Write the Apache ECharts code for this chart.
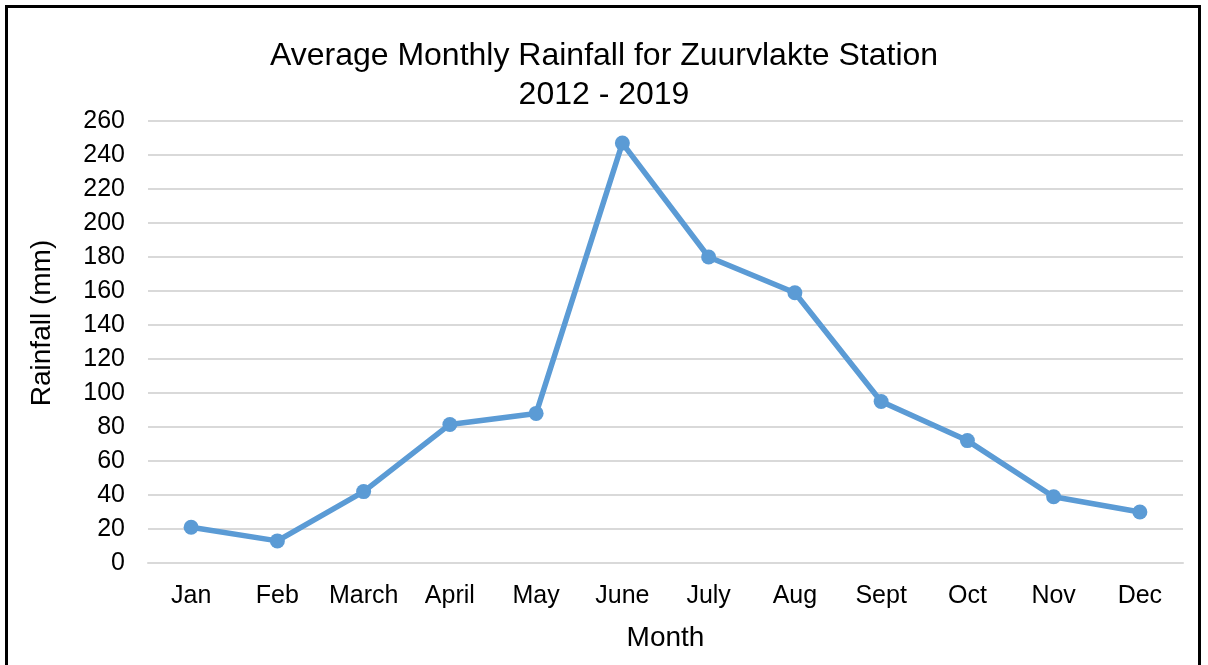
<!DOCTYPE html>
<html>
<head>
<meta charset="utf-8">
<script src="https://cdn.jsdelivr.net/npm/echarts@6/dist/echarts.min.js"></script>
<style>
  html, body { margin: 0; padding: 0; background: #fff; }
  #frame { position: absolute; left: 5px; top: 5px; width: 1196px; height: 666px; border: 3px solid #000; box-sizing: border-box; }
  #main { position: absolute; left: 0; top: 0; width: 1208px; height: 665px; }
</style>
</head>
<body>
<div id="frame"></div>
<div id="main"></div>
<script>
// 数据
const months = ['Jan', 'Feb', 'March', 'April', 'May', 'June', 'July', 'Aug', 'Sept', 'Oct', 'Nov', 'Dec']
const rainfall = [21, 13, 42, 81.5, 88, 247, 180, 159, 95, 72, 39, 30]
const yMin = 0
const yMax = 260
const yStep = 20

let myChart = echarts.init(document.getElementById('main'))
let font = 'Liberation Sans, Arial, sans-serif'
let option = {
    title: {
        text: 'Average Monthly Rainfall for Zuurvlakte Station\n2012 - 2019',
        left: 'center',
        top: 32,
        textStyle: { fontFamily: font, fontSize: 32, fontWeight: 'normal', color: '#000', lineHeight: 39 }
    },
    grid: { left: 148, right: 25, top: 121, bottom: 102 },
    xAxis: {
        type: 'category',
        data: months,
        name: 'Month',
        nameLocation: 'middle',
        nameGap: 61,
        nameTextStyle: { fontFamily: font, fontSize: 28, color: '#000' },
        axisLine: { lineStyle: { color: '#d9d9d9', width: 2 } },
        axisTick: { show: false },
        axisLabel: { fontFamily: font, fontSize: 25, color: '#000', margin: 21, interval: 0 }
    },
    yAxis: {
        type: 'value',
        min: yMin,
        max: yMax,
        interval: yStep,
        name: 'Rainfall (mm)',
        nameLocation: 'middle',
        nameGap: 92,
        nameTextStyle: { fontFamily: font, fontSize: 28, color: '#000', padding: [0, 0, 0, 38] },
        axisLine: { show: false },
        axisTick: { show: false },
        axisLabel: { fontFamily: font, fontSize: 25, color: '#000', margin: 23 },
        splitLine: { lineStyle: { color: '#d9d9d9', width: 2 } }
    },
    series: [
        {
            type: 'line',
            data: rainfall,
            symbol: 'circle',
            symbolSize: 15,
            lineStyle: { color: '#5b9bd5', width: 5.5 },
            itemStyle: { color: '#5b9bd5' },
            animation: false
        }
    ]
}
myChart.setOption(option)
</script>
</body>
</html>
